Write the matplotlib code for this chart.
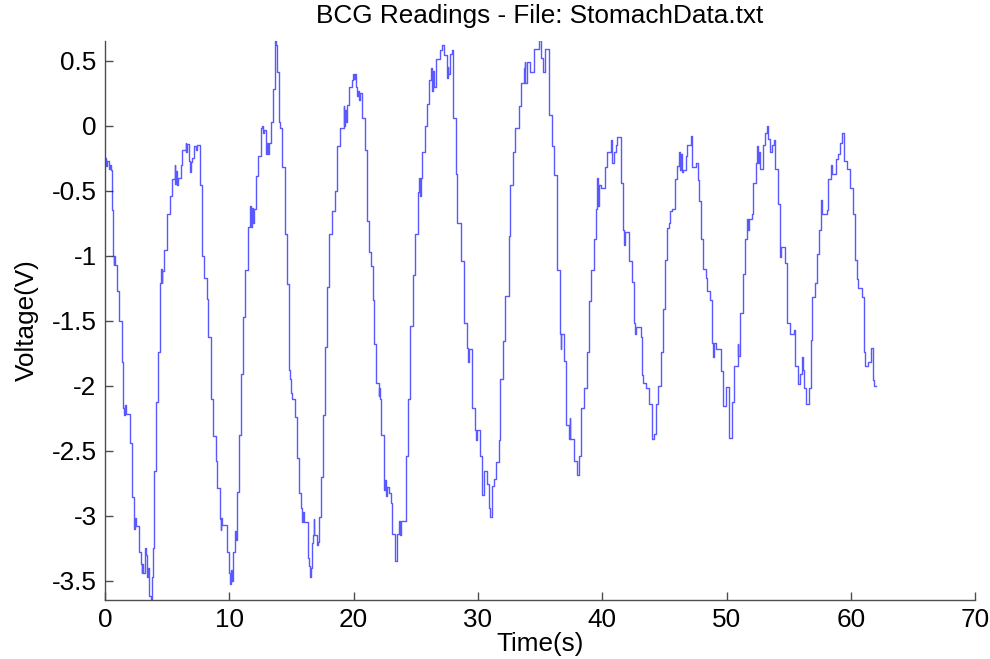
import matplotlib
matplotlib.use("Agg")
import matplotlib.pyplot as plt
from matplotlib.ticker import FuncFormatter

plt.rcParams['font.family'] = ['Liberation Sans', 'DejaVu Sans']
plt.rcParams['axes.unicode_minus'] = False

# step readings (time in s, level in V)
time_s = [
    0.00, 0.10, 0.18, 0.30, 0.40, 0.48, 0.55, 0.68, 0.72, 0.76,
    0.82, 0.95, 1.14, 1.35, 1.49, 1.55, 1.60, 1.70, 2.03, 2.16,
    2.30, 2.36, 2.42, 2.50, 2.78, 2.90, 2.95, 3.00, 3.10, 3.24,
    3.32, 3.40, 3.50, 3.58, 3.70, 3.80, 3.88, 3.97, 4.14, 4.24,
    4.46, 4.52, 4.56, 4.62, 4.73, 5.00, 5.27, 5.40, 5.60, 5.66,
    5.72, 5.80, 5.90, 6.08, 6.20, 6.50, 6.56, 6.62, 6.76, 6.82,
    6.90, 7.03, 7.16, 7.30, 7.43, 7.65, 7.78, 7.84, 7.97, 8.19,
    8.32, 8.51, 8.70, 8.92, 9.05, 9.24, 9.30, 9.36, 9.45, 9.81,
    9.95, 10.02, 10.14, 10.19, 10.27, 10.46, 10.50, 10.55, 10.62, 10.81,
    10.95, 11.08, 11.27, 11.49, 11.68, 11.74, 11.80, 11.88, 11.97, 12.16,
    12.35, 12.57, 12.65, 12.72, 12.80, 12.97, 13.04, 13.10, 13.17, 13.38,
    13.51, 13.65, 13.75, 13.86, 14.00, 14.08, 14.27, 14.46, 14.68, 14.81,
    14.90, 15.00, 15.08, 15.27, 15.46, 15.59, 15.76, 15.82, 15.90, 16.00,
    16.30, 16.40, 16.49, 16.56, 16.62, 16.72, 16.78, 16.84, 17.03, 17.10,
    17.22, 17.38, 17.57, 17.70, 17.89, 18.05, 18.24, 18.51, 18.70, 18.92,
    19.19, 19.25, 19.32, 19.40, 19.46, 19.65, 19.86, 19.95, 20.02, 20.08,
    20.20, 20.27, 20.35, 20.45, 20.55, 20.71, 20.93, 21.12, 21.26, 21.42,
    21.53, 21.67, 21.80, 22.02, 22.08, 22.14, 22.24, 22.43, 22.50, 22.58,
    22.66, 22.84, 22.98, 23.11, 23.33, 23.52, 23.66, 23.75, 23.82, 24.21,
    24.40, 24.56, 24.75, 24.95, 25.16, 25.30, 25.36, 25.42, 25.52, 25.71,
    25.90, 26.07, 26.26, 26.32, 26.40, 26.50, 26.67, 26.94, 27.08, 27.27,
    27.49, 27.56, 27.62, 27.76, 27.90, 28.03, 28.20, 28.35, 28.65, 28.91,
    29.13, 29.20, 29.30, 29.54, 29.73, 29.82, 29.92, 30.16, 30.36, 30.46,
    30.73, 30.86, 31.00, 31.13, 31.26, 31.48, 31.67, 31.80, 32.02, 32.20,
    32.47, 32.61, 32.82, 33.01, 33.28, 33.47, 33.68, 33.75, 33.82, 33.95,
    34.22, 34.49, 34.89, 35.08, 35.24, 35.43, 35.70, 35.97, 36.16, 36.37,
    36.59, 36.65, 36.72, 36.91, 37.12, 37.31, 37.37, 37.44, 37.72, 37.98,
    38.12, 38.31, 38.52, 38.74, 38.92, 39.11, 39.33, 39.52, 39.58, 39.66,
    39.74, 39.92, 40.19, 40.40, 40.67, 40.81, 40.94, 41.08, 41.20, 41.48,
    41.69, 41.75, 41.82, 42.15, 42.42, 42.55, 42.62, 42.70, 43.09, 43.23,
    43.30, 43.49, 43.76, 43.98, 44.17, 44.30, 44.52, 44.70, 44.89, 45.05,
    45.24, 45.38, 45.44, 45.65, 45.83, 46.05, 46.18, 46.26, 46.34, 46.42,
    46.53, 46.72, 46.85, 47.12, 47.26, 47.53, 47.74, 47.80, 47.93, 48.12,
    48.33, 48.40, 48.68, 48.82, 48.90, 48.98, 49.14, 49.54, 49.68, 49.75,
    49.95, 50.16, 50.43, 50.62, 50.89, 50.96, 51.10, 51.35, 51.49, 51.68,
    51.74, 51.80, 52.03, 52.16, 52.35, 52.49, 52.55, 52.62, 52.70, 52.97,
    53.11, 53.24, 53.30, 53.46, 53.65, 53.78, 53.92, 54.11, 54.27, 54.33,
    54.40, 54.73, 54.86, 55.08, 55.14, 55.46, 55.54, 55.73, 55.95, 56.08,
    56.14, 56.27, 56.43, 56.62, 56.76, 56.89, 57.08, 57.24, 57.43, 57.62,
    57.70, 58.05, 58.16, 58.38, 58.45, 58.78, 58.97, 59.11, 59.32, 59.46,
    59.73, 59.95, 60.14, 60.32, 60.49, 60.55, 60.86, 61.03, 61.10, 61.35,
    61.62, 61.76, 61.89, 62.00,
]
volts = [
    -0.25, -0.31, -0.27, -0.33, -0.30, -0.34, -0.65, -1.00, -1.07, -1.00,
    -1.07, -1.27, -1.50, -1.82, -2.17, -2.23, -2.15, -2.22, -2.44, -2.86,
    -3.04, -3.10, -3.02, -3.08, -3.28, -3.37, -3.44, -3.37, -3.44, -3.25,
    -3.30, -3.47, -3.40, -3.62, -3.66, -3.47, -3.25, -2.66, -2.13, -1.74,
    -1.21, -1.10, -1.21, -1.12, -0.96, -0.68, -0.54, -0.41, -0.30, -0.45,
    -0.35, -0.46, -0.40, -0.30, -0.19, -0.13, -0.20, -0.14, -0.27, -0.36,
    -0.28, -0.25, -0.16, -0.19, -0.15, -0.46, -0.93, -1.00, -1.17, -1.33,
    -1.63, -2.10, -2.39, -2.58, -2.79, -3.03, -3.11, -3.02, -3.07, -3.28,
    -3.44, -3.53, -3.42, -3.50, -3.28, -3.19, -3.12, -3.19, -2.82, -2.38,
    -1.91, -1.47, -1.11, -0.78, -0.62, -0.78, -0.63, -0.75, -0.64, -0.39,
    -0.23, -0.02, 0.00, -0.06, -0.03, -0.22, -0.13, -0.22, -0.13, 0.03,
    0.28, 0.66, 0.62, 0.41, 0.03, -0.02, -0.32, -0.83, -1.22, -1.88,
    -1.95, -2.06, -2.10, -2.24, -2.56, -2.83, -2.94, -3.05, -2.97, -3.05,
    -3.33, -3.39, -3.47, -3.40, -3.21, -3.15, -3.03, -3.15, -3.23, -3.20,
    -3.01, -2.70, -2.23, -1.70, -1.24, -0.83, -0.66, -0.50, -0.16, -0.02,
    0.15, 0.00, 0.12, 0.03, 0.16, 0.30, 0.35, 0.40, 0.36, 0.40,
    0.30, 0.23, 0.27, 0.20, 0.25, 0.06, -0.19, -0.73, -0.97, -1.08,
    -1.34, -1.68, -1.98, -2.08, -2.02, -2.10, -2.38, -2.80, -2.73, -2.85,
    -2.78, -2.83, -2.90, -3.14, -3.35, -3.14, -3.04, -3.15, -3.04, -2.54,
    -2.10, -1.54, -1.15, -0.83, -0.51, -0.40, -0.54, -0.40, -0.20, 0.00,
    0.17, 0.35, 0.44, 0.27, 0.42, 0.30, 0.51, 0.58, 0.62, 0.54,
    0.37, 0.45, 0.40, 0.55, 0.58, 0.06, -0.37, -0.75, -1.04, -1.52,
    -1.71, -1.82, -1.72, -2.17, -2.34, -2.42, -2.34, -2.54, -2.84, -2.66,
    -2.76, -2.94, -3.01, -2.77, -2.72, -2.59, -2.42, -1.95, -1.66, -1.31,
    -0.85, -0.46, -0.20, -0.02, 0.15, 0.33, 0.44, 0.49, 0.33, 0.49,
    0.41, 0.59, 0.66, 0.52, 0.41, 0.59, 0.08, -0.16, -0.38, -1.11,
    -1.60, -1.72, -1.60, -1.81, -2.30, -2.41, -2.25, -2.41, -2.58, -2.69,
    -2.54, -2.17, -2.02, -1.74, -1.35, -1.11, -0.87, -0.64, -0.40, -0.62,
    -0.46, -0.48, -0.32, -0.20, -0.11, -0.29, -0.20, -0.15, -0.09, -0.44,
    -0.80, -0.92, -0.82, -1.04, -1.20, -1.52, -1.60, -1.55, -1.63, -1.92,
    -1.98, -2.02, -2.14, -2.41, -2.37, -2.14, -2.00, -1.74, -1.41, -1.03,
    -0.79, -0.75, -0.66, -0.64, -0.41, -0.31, -0.20, -0.34, -0.22, -0.36,
    -0.34, -0.23, -0.15, -0.08, -0.32, -0.29, -0.42, -0.58, -0.87, -1.10,
    -1.17, -1.27, -1.34, -1.67, -1.78, -1.67, -1.72, -1.89, -2.11, -2.16,
    -2.01, -2.40, -2.13, -1.85, -1.68, -1.77, -1.44, -1.14, -0.87, -0.72,
    -0.80, -0.72, -0.68, -0.44, -0.29, -0.16, -0.29, -0.20, -0.33, -0.15,
    -0.06, 0.00, -0.10, -0.20, -0.15, -0.11, -0.33, -0.60, -0.93, -1.01,
    -0.93, -1.06, -1.52, -1.54, -1.60, -1.57, -1.85, -1.99, -1.91, -1.78,
    -1.88, -2.02, -2.14, -2.02, -1.65, -1.32, -1.21, -0.99, -0.80, -0.57,
    -0.68, -0.65, -0.41, -0.30, -0.37, -0.26, -0.22, -0.13, -0.06, -0.27,
    -0.33, -0.48, -0.68, -1.03, -1.18, -1.25, -1.32, -1.74, -1.85, -1.82,
    -1.71, -1.96, -2.00, -2.00,
]

x_ticks = [0, 10, 20, 30, 40, 50, 60, 70]
y_ticks = [-3.5, -3, -2.5, -2, -1.5, -1, -0.5, 0, 0.5]

fig = plt.figure(figsize=(9.9, 6.59), dpi=100)
ax = fig.add_axes([0.106, 0.0895, 0.879, 0.848])

ax.step(time_s, volts, where='post', color='blue', lw=1.0, alpha=0.65)

ax.set_xlim(0, 70)
ax.set_ylim(-3.65, 0.65)
ax.set_xticks(x_ticks)
ax.set_yticks(y_ticks)
ax.yaxis.set_major_formatter(FuncFormatter(lambda v, p: '%g' % v))

ax.spines['top'].set_visible(False)
ax.spines['right'].set_visible(False)
for s in ['left', 'bottom']:
    ax.spines[s].set_color('0.3')
    ax.spines[s].set_linewidth(1.0)
ax.tick_params(direction='in', length=6, width=1.0, color='0.3',
               labelsize=18.8, pad=6)
ax.tick_params(axis='x', pad=6)

ax.set_title('BCG Readings - File: StomachData.txt', fontsize=18.8, pad=13)
ax.set_xlabel('Time(s)', fontsize=18.8, labelpad=0)
ax.set_ylabel('Voltage(V)', fontsize=18.8, labelpad=9)

fig.savefig('out.png', dpi=100)
